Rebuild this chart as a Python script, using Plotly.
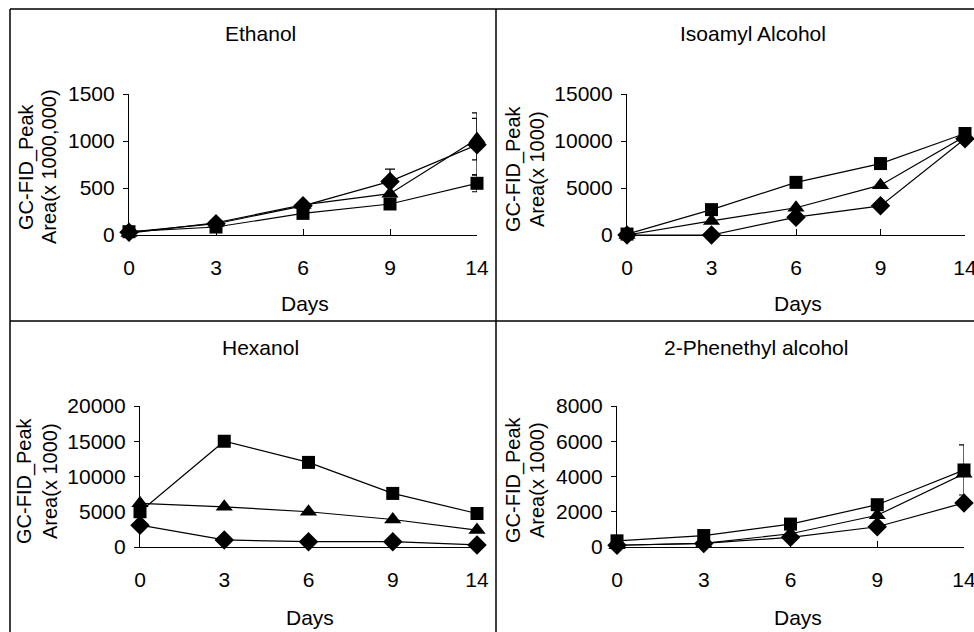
import plotly.graph_objects as go

W, H = 974, 632

days = ["0", "3", "6", "9", "14"]
series_names = ["Diamond", "Triangle", "Square"]
symbols = ["diamond", "triangle-up", "square"]
marker_sizes = [15, 15, 13]

ethanol_diamond = [30, 120, 310, 570, 960]
ethanol_triangle = [20, 130, 320, 440, 1020]
ethanol_square = [35, 85, 230, 330, 550]
ethanol_err_plus_diamond = [0, 0, 0, 130, 280]
ethanol_err_minus_diamond = [0, 0, 0, 130, 320]
ethanol_err_plus_triangle = [0, 0, 0, 0, 280]
ethanol_err_minus_triangle = [0, 0, 0, 0, 220]
ethanol_err_square = [0, 0, 0, 0, 90]

isoamyl_diamond = [0, 0, 1900, 3100, 10250]
isoamyl_triangle = [0, 1500, 2900, 5300, 10500]
isoamyl_square = [100, 2700, 5600, 7600, 10800]

hexanol_diamond = [3100, 1000, 750, 750, 300]
hexanol_triangle = [6200, 5700, 5000, 3900, 2400]
hexanol_square = [5000, 15000, 12000, 7600, 4750]

phen_diamond = [100, 200, 550, 1150, 2500]
phen_triangle = [100, 200, 750, 1800, 4150]
phen_square = [350, 650, 1300, 2400, 4370]
phen_err_square = [0, 0, 0, 0, 1420]

titles = ["Ethanol", "Isoamyl Alcohol", "Hexanol", "2-Phenethyl alcohol"]
ylab1 = "GC-FID_Peak"
ylab2 = ["Area(x 1000,000)", "Area(x 1000)", "Area(x 1000)", "Area(x 1000)"]
xlab = "Days"
yranges = [[0, 1500], [0, 15000], [0, 20000], [0, 8000]]
ydticks = [500, 5000, 5000, 2000]

FONT = "Liberation Sans, Arial, sans-serif"
FS = 21


def px(x):
    return x / W


def py(y):
    return 1 - y / H


# panel pixel geometry: x0 (day 0), x1 (day 14), y0 (value 0), y1 (top)
panels = [
    (129, 477, 235, 94),
    (627, 965, 235, 94),
    (140, 477, 547, 406),
    (617, 964, 547, 406),
]
title_pos = [(260, 33), (753, 33), (260, 347), (756, 347)]
days_pos = [(305, 303), (798, 303), (310, 617), (798, 617)]
ylab_pos = [(26, 49, 167), (513, 537, 169), (25, 50, 481), (513, 537, 480)]

data = [
    (ethanol_diamond, ethanol_triangle, ethanol_square),
    (isoamyl_diamond, isoamyl_triangle, isoamyl_square),
    (hexanol_diamond, hexanol_triangle, hexanol_square),
    (phen_diamond, phen_triangle, phen_square),
]

fig = go.Figure()

for i, (vals, geo) in enumerate(zip(data, panels)):
    xa = "x" if i == 0 else f"x{i+1}"
    ya = "y" if i == 0 else f"y{i+1}"
    for j, v in enumerate(vals):
        err = None
        if i == 0:
            if j == 0:
                err = dict(type="data", symmetric=False, array=ethanol_err_plus_diamond,
                           arrayminus=ethanol_err_minus_diamond)
            elif j == 1:
                err = dict(type="data", symmetric=False, array=ethanol_err_plus_triangle,
                           arrayminus=ethanol_err_minus_triangle)
            else:
                err = dict(type="data", array=ethanol_err_square)
        if i == 3 and j == 2:
            err = dict(type="data", array=phen_err_square)
        if err is not None:
            err.update(color="black", thickness=1.2, width=5)
        fig.add_trace(go.Scatter(
            x=days, y=v, mode="lines+markers", name=series_names[j],
            xaxis=xa, yaxis=ya, cliponaxis=False,
            line=dict(color="black", width=1.2),
            marker=dict(symbol=symbols[j], size=marker_sizes[j], color="black",
                        line=dict(width=0)),
            error_y=err if err is not None else dict(visible=False),
            showlegend=False,
        ))

    x0, x1, y0, y1 = geo
    xkey = "xaxis" if i == 0 else f"xaxis{i+1}"
    ykey = "yaxis" if i == 0 else f"yaxis{i+1}"
    fig.layout[xkey] = dict(
        type="category", domain=[px(x0), px(x1)], range=[0, 4],
        anchor=ya, showline=True, linecolor="black", linewidth=1.2,
        ticks="inside", ticklen=6, tickcolor="black", tickwidth=1.2,
        showgrid=False, zeroline=False, fixedrange=True,
        tickfont=dict(family=FONT, size=FS, color="black"),
        ticklabelstandoff=14,
    )
    fig.layout[ykey] = dict(
        domain=[py(y0), py(y1)], range=yranges[i], anchor=xa,
        showline=True, linecolor="black", linewidth=1.2,
        ticks="outside", ticklen=5, tickcolor="black", tickwidth=1.2,
        dtick=ydticks[i], tick0=0, tickformat="d",
        showgrid=False, zeroline=False, fixedrange=True,
        tickfont=dict(family=FONT, size=FS, color="black"),
        ticklabelstandoff=4,
    )

annotations = []
for i in range(4):
    tx, ty = title_pos[i]
    annotations.append(dict(text=titles[i], x=px(tx), y=py(ty), xref="paper", yref="paper",
                            showarrow=False, xanchor="center", yanchor="middle",
                            font=dict(family=FONT, size=FS, color="black")))
    dx, dy = days_pos[i]
    annotations.append(dict(text=xlab, x=px(dx), y=py(dy), xref="paper", yref="paper",
                            showarrow=False, xanchor="center", yanchor="middle",
                            font=dict(family=FONT, size=FS, color="black")))
    l1x, l2x, ly = ylab_pos[i]
    annotations.append(dict(text=ylab1, x=px(l1x), y=py(ly), xref="paper", yref="paper",
                            showarrow=False, xanchor="center", yanchor="middle", textangle=-90,
                            font=dict(family=FONT, size=20, color="black")))
    annotations.append(dict(text=ylab2[i], x=px(l2x), y=py(ly), xref="paper", yref="paper",
                            showarrow=False, xanchor="center", yanchor="middle", textangle=-90,
                            font=dict(family=FONT, size=20, color="black")))

# frame lines of the 2x2 grid
shapes = [
    dict(type="line", xref="paper", yref="paper", x0=px(10), x1=1, y0=py(9), y1=py(9)),
    dict(type="line", xref="paper", yref="paper", x0=px(10), x1=px(10), y0=py(9), y1=0),
    dict(type="line", xref="paper", yref="paper", x0=px(496), x1=px(496), y0=py(9), y1=0),
    dict(type="line", xref="paper", yref="paper", x0=px(10), x1=1, y0=py(321), y1=py(321)),
]
for s in shapes:
    s["line"] = dict(color="black", width=1.5)

fig.update_layout(
    width=W, height=H, margin=dict(l=0, r=0, t=0, b=0, autoexpand=False),
    paper_bgcolor="white", plot_bgcolor="white",
    annotations=annotations, shapes=shapes, showlegend=False,
    font=dict(family=FONT, size=FS, color="black"),
)

fig.write_html(
    "out.html",
    config={"displayModeBar": False},
    post_script="document.body.style.margin='0';document.body.style.overflow='hidden';",
)
